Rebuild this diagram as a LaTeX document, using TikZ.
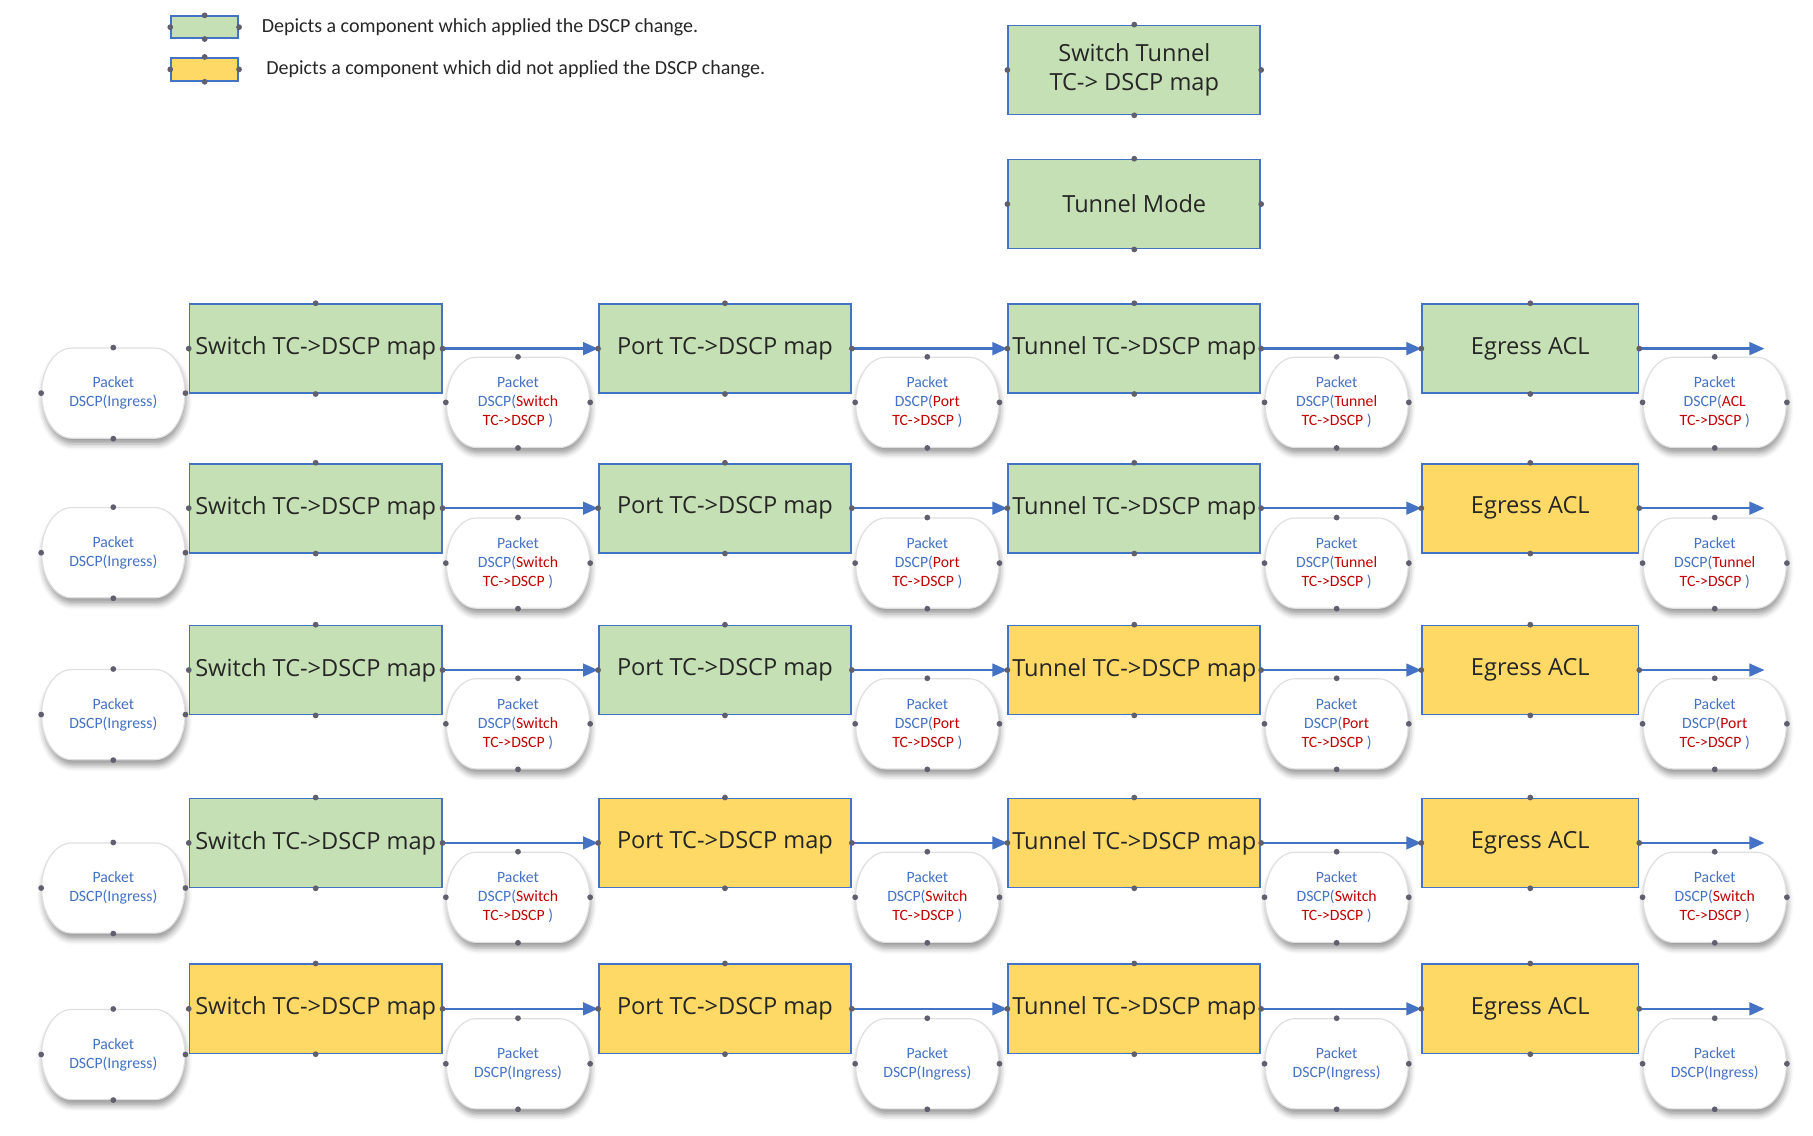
\documentclass[tikz,border=0pt]{standalone}
\usepackage{fontspec}
\setmainfont{Carlito}
\newfontfamily\boxfont{Open Sans}
\usepackage{tikz}
\usetikzlibrary{arrows.meta, calc, shadows.blur}
\usepackage{xcolor}

\definecolor{boxgreen}{HTML}{C5E0B4}
\definecolor{boxyellow}{HTML}{FFD966}
\definecolor{lineblue}{HTML}{4472C4}
\definecolor{pktred}{HTML}{C00000}
\definecolor{dotgray}{HTML}{5F5F6E}
\definecolor{textdark}{HTML}{262626}

\tikzset{
  comp/.style={draw=lineblue, line width=0.75pt, minimum width=109pt, minimum height=38.5pt,
    inner sep=0pt, text=textdark, align=center, font=\boxfont\fontsize{10.2}{12.6}\selectfont},
  applied/.style={comp, fill=boxgreen},
  kept/.style={comp, fill=boxyellow},
  acl/.style={minimum width=93.5pt},
  flow/.style={draw=lineblue, line width=1pt, -{Triangle[length=6.5pt, width=5.5pt]}},
  pktline/.style={draw=gray!25, line width=0.5pt, fill=white,
    blur shadow={shadow xshift=0.5pt, shadow yshift=-2.5pt, shadow blur radius=2.5pt, shadow opacity=40}},
  pkttext/.style={minimum width=62pt, minimum height=39pt, inner sep=0pt, text=lineblue,
    align=center, font=\fontsize{6.8}{8.25}\selectfont},
  legtext/.style={anchor=west, inner sep=0pt, text=textdark, font=\fontsize{8.65}{10}\selectfont},
}

% connection points
\newcommand{\cpoints}[1]{\foreach \a in {north,south,east,west} {\fill[dotgray] (#1.\a) circle (1.25pt);}}

% packet label: name, x, y, text
\newcommand{\packet}[4]{%
  \draw[pktline] (#2-36,#3+39) -- (#2+36,#3+39)
    arc[start angle=90, end angle=-90, x radius=13pt, y radius=19.5pt]
    -- (#2-36,#3-39)
    arc[start angle=270, end angle=90, x radius=13pt, y radius=19.5pt] -- cycle;
  \node[pkttext] (#1) at (#2,#3) {#4};
  \cpoints{#1}
}
\newcommand{\ingress}{Packet\\DSCP(Ingress)}
\newcommand{\changed}[1]{Packet\\DSCP(\textcolor{pktred}{#1}\\\textcolor{pktred}{TC->DSCP} )}

\begin{document}
\begin{tikzpicture}[x=0.5pt, y=0.5pt]
  \useasboundingbox (0,0) rectangle (1568,-982);

  % Legenda
  \node[applied, minimum width=29pt, minimum height=9.5pt] (lgreen) at (177,-23.5) {};
  \node[kept, minimum width=29pt, minimum height=10pt] (lyellow) at (177,-60) {};
  \node[legtext] (lgtext) at (226,-23.5) {Depicts a component which applied the DSCP change.};
  \node[legtext] (lytext) at (230,-60) {Depicts a component which did not applied the DSCP change.};

  % Tunnel
  \node[applied] (tmap) at (981,-60.5) {Switch Tunnel\\TC-> DSCP map};
  \node[applied] (tmode) at (981,-176.5) {Tunnel Mode};

  % Riga 1
  \packet{pk10}{98}{-340}{\ingress}
  \packet{pk11}{448}{-348}{\changed{Switch}}
  \packet{pk12}{802}{-348}{\changed{Port}}
  \packet{pk13}{1156}{-348}{\changed{Tunnel}}
  \packet{pk14}{1483}{-348}{\changed{ACL}}
  \node[applied] (sw1) at (273,-301.5) {Switch TC->DSCP map};
  \node[applied] (pt1) at (627,-301.5) {Port TC->DSCP map};
  \node[applied] (tn1) at (981,-301.5) {Tunnel TC->DSCP map};
  \node[applied, acl] (eg1) at (1323.5,-301.5) {Egress ACL};
  \coordinate (out1) at (1526,-301.5);

  % Riga 2
  \packet{pk20}{98}{-478}{\ingress}
  \packet{pk21}{448}{-487}{\changed{Switch}}
  \packet{pk22}{802}{-487}{\changed{Port}}
  \packet{pk23}{1156}{-487}{\changed{Tunnel}}
  \packet{pk24}{1483}{-487}{\changed{Tunnel}}
  \node[applied] (sw2) at (273,-439.5) {Switch TC->DSCP map};
  \node[applied] (pt2) at (627,-439.5) {Port TC->DSCP map};
  \node[applied] (tn2) at (981,-439.5) {Tunnel TC->DSCP map};
  \node[kept, acl] (eg2) at (1323.5,-439.5) {Egress ACL};
  \coordinate (out2) at (1526,-439.5);

  % Riga 3
  \packet{pk30}{98}{-618}{\ingress}
  \packet{pk31}{448}{-626}{\changed{Switch}}
  \packet{pk32}{802}{-626}{\changed{Port}}
  \packet{pk33}{1156}{-626}{\changed{Port}}
  \packet{pk34}{1483}{-626}{\changed{Port}}
  \node[applied] (sw3) at (273,-579.5) {Switch TC->DSCP map};
  \node[applied] (pt3) at (627,-579.5) {Port TC->DSCP map};
  \node[kept] (tn3) at (981,-579.5) {Tunnel TC->DSCP map};
  \node[kept, acl] (eg3) at (1323.5,-579.5) {Egress ACL};
  \coordinate (out3) at (1526,-579.5);

  % Riga 4
  \packet{pk40}{98}{-768}{\ingress}
  \packet{pk41}{448}{-776}{\changed{Switch}}
  \packet{pk42}{802}{-776}{\changed{Switch}}
  \packet{pk43}{1156}{-776}{\changed{Switch}}
  \packet{pk44}{1483}{-776}{\changed{Switch}}
  \node[applied] (sw4) at (273,-729) {Switch TC->DSCP map};
  \node[kept] (pt4) at (627,-729) {Port TC->DSCP map};
  \node[kept] (tn4) at (981,-729) {Tunnel TC->DSCP map};
  \node[kept, acl] (eg4) at (1323.5,-729) {Egress ACL};
  \coordinate (out4) at (1526,-729);

  % Riga 5
  \packet{pk50}{98}{-912}{\ingress}
  \packet{pk51}{448}{-920}{\ingress}
  \packet{pk52}{802}{-920}{\ingress}
  \packet{pk53}{1156}{-920}{\ingress}
  \packet{pk54}{1483}{-920}{\ingress}
  \node[kept] (sw5) at (273,-872.5) {Switch TC->DSCP map};
  \node[kept] (pt5) at (627,-872.5) {Port TC->DSCP map};
  \node[kept] (tn5) at (981,-872.5) {Tunnel TC->DSCP map};
  \node[kept, acl] (eg5) at (1323.5,-872.5) {Egress ACL};
  \coordinate (out5) at (1526,-872.5);

  % Frecce
  \foreach \r in {1,...,5} {
    \draw[flow] (sw\r.east) -- (pt\r.west);
    \draw[flow] (pt\r.east) -- (tn\r.west);
    \draw[flow] (tn\r.east) -- (eg\r.west);
    \draw[flow] (eg\r.east) -- (out\r);
  }

  % Punti di connessione
  \foreach \n in {lgreen,lyellow,tmap,tmode} {\cpoints{\n}}
  \foreach \r in {1,...,5} {
    \cpoints{sw\r} \cpoints{pt\r} \cpoints{tn\r} \cpoints{eg\r}
  }
\end{tikzpicture}
\end{document}
